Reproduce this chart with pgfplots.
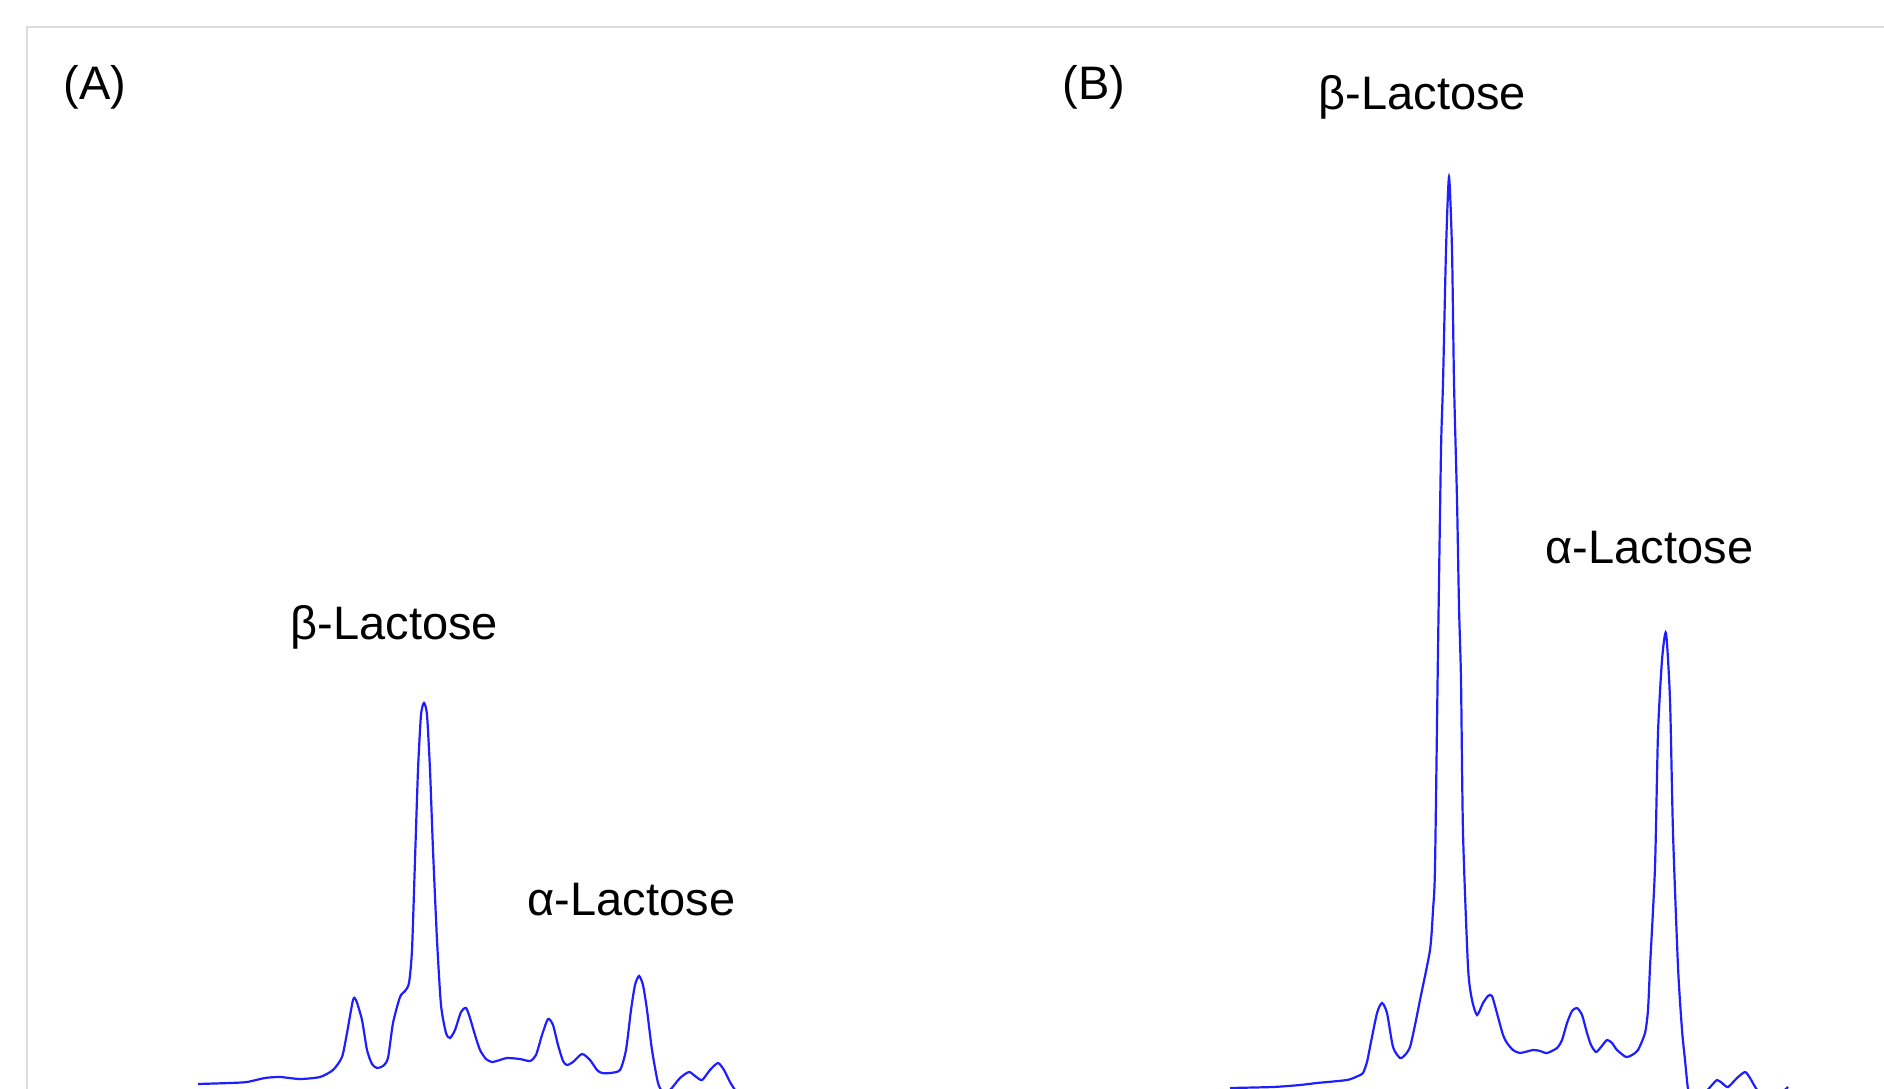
\documentclass[border=0pt]{standalone}
\usepackage{pgfplots}
\pgfplotsset{compat=1.18}
\usepackage{fontspec}
\setmainfont{Liberation Sans}
\definecolor{framegray}{RGB}{220,220,220}
\definecolor{specblue}{RGB}{30,30,255}
\begin{document}
\begin{tikzpicture}
\useasboundingbox (0,0) rectangle (471pt,272.25pt);
\begin{axis}[
  x=0.25pt, y=0.25pt,
  xmin=0, xmax=1884, ymin=0, ymax=1089,
  y dir=reverse,
  hide axis,
  anchor=origin, at={(0pt,272.25pt)},
  clip=true,
]
% frame (partially outside the shown region)
\draw[framegray, line width=0.55pt] (axis cs:27,1200) -- (axis cs:27,27) -- (axis cs:2000,27);
% (A) spectrum
\addplot[specblue, line width=0.55pt, smooth, tension=0.4] coordinates {
(198,1084) (230,1083) (247,1082) (265,1078) (280,1077) (300,1079) (320,1077)
(333,1070) (342,1057) (347,1033) (353,1000) (356,1000) (362,1020) (367,1050)
(372,1064) (377,1068) (383,1066) (388,1058) (393,1023) (400,997) (405,991)
(409,983) (412,950) (415,860) (418,770) (421,715) (424,703) (427,715)
(430,770) (433,850) (437,940) (441,1005) (446,1033) (450,1038) (455,1030)
(461,1012) (466,1008) (470,1018) (475,1035) (480,1050) (486,1059) (492,1062)
(500,1060) (507,1058) (520,1059) (530,1061) (536,1055) (542,1035) (548,1019)
(553,1025) (558,1045) (563,1061) (567,1065) (573,1062) (582,1054) (590,1060)
(597,1070) (602,1073) (610,1073) (620,1070) (626,1050) (631,1010) (635,985)
(639,976) (643,985) (647,1010) (652,1050) (658,1083) (663,1092) (670,1090)
(680,1078) (689,1072) (695,1076) (702,1080) (710,1070) (718,1063) (724,1070)
(730,1082) (735,1090)
};
% (B) spectrum
\addplot[specblue, line width=0.55pt, smooth, tension=0.4] coordinates {
(1230,1088) (1273,1087) (1300,1085) (1317,1083) (1347,1080) (1358,1076)
(1363,1073) (1367,1062) (1370,1047) (1377,1013) (1382,1003) (1387,1013)
(1393,1047) (1400,1058) (1405,1055) (1410,1047) (1415,1025) (1420,1000)
(1430,950) (1433,910) (1435,867) (1438,650) (1441,450) (1443,383) (1446,250)
(1449,177) (1452,250) (1454,383) (1457,500) (1459,607) (1461,680) (1463,833)
(1468,967) (1472,1000) (1477,1015) (1483,1003) (1488,996) (1492,996)
(1498,1017) (1503,1035) (1507,1043) (1513,1050) (1520,1053) (1533,1050)
(1540,1051) (1547,1053) (1557,1048) (1562,1040) (1567,1023) (1572,1011)
(1577,1008) (1582,1015) (1587,1033) (1591,1045) (1596,1052) (1601,1047)
(1607,1040) (1612,1043) (1617,1050) (1626,1057) (1632,1055) (1638,1050)
(1645,1033) (1648,1010) (1650,967) (1655,867) (1658,733) (1662,660)
(1666,633) (1670,700) (1673,833) (1678,967) (1682,1030) (1685,1060)
(1688,1089) (1692,1100) (1700,1098) (1712,1085) (1717,1080) (1722,1083)
(1728,1087) (1737,1078) (1745,1072) (1750,1078) (1758,1091) (1770,1097)
(1782,1092) (1788,1087)
};
\end{axis}
\begin{scope}[every node/.style={inner sep=0pt, anchor=base west, font=\fontsize{11.75}{14}\selectfont}]
\node at (63*0.25pt, {(1089-100)*0.25pt}) {(A)};
\node at (1062*0.25pt, {(1089-100)*0.25pt}) {(B)};
\node at (290*0.25pt, {(1089-640)*0.25pt}) {β-Lactose};
\node at (527*0.25pt, {(1089-916)*0.25pt}) {α-Lactose};
\node at (1318*0.25pt, {(1089-110)*0.25pt}) {β-Lactose};
\node at (1545*0.25pt, {(1089-564)*0.25pt}) {α-Lactose};
\end{scope}
\end{tikzpicture}
\end{document}
